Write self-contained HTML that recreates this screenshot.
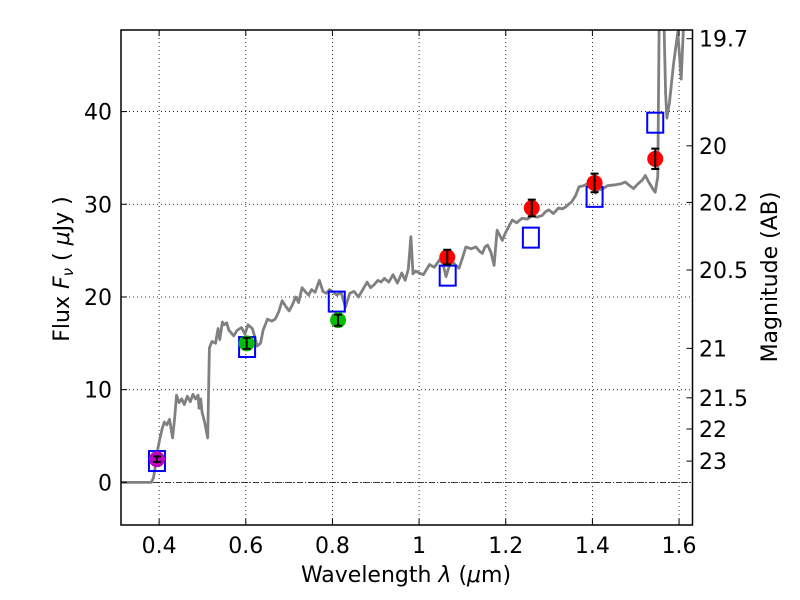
<!DOCTYPE html>
<html><head><meta charset="utf-8"><style>
html,body{margin:0;padding:0;background:#fff;width:800px;height:600px;overflow:hidden;position:relative}
svg{display:block;font-family:"DejaVu Sans","Liberation Sans",sans-serif}
</style></head><body>
<svg id="chart" width="800" height="600">
<g id="grid"></g>
<g id="plot" clip-path="url(#clip)"></g>
<g id="axes"></g>
<defs><clipPath id="clip"><rect x="121" y="30" width="571.5" height="495"/></clipPath></defs>
</svg>
<script>
const xTicks=[0.4,0.6,0.8,1.0,1.2,1.4,1.6];
const xTickLabels=["0.4","0.6","0.8","1","1.2","1.4","1.6"];
const yTicks=[0,10,20,30,40];
const magTicks=[19.7,20,20.2,20.5,21,21.5,22,23];
const specWave=[0.31,0.382,0.387,0.392,0.397,0.402,0.407,0.412,0.418,0.424,0.431,0.436,0.440,0.446,0.452,0.458,0.465,0.472,0.478,0.484,0.490,0.492,0.496,0.499,0.505,0.512,0.516,0.522,0.530,0.536,0.540,0.546,0.550,0.556,0.561,0.565,0.572,0.580,0.590,0.598,0.605,0.615,0.620,0.626,0.634,0.640,0.650,0.660,0.668,0.676,0.684,0.692,0.700,0.708,0.715,0.722,0.730,0.737,0.745,0.752,0.760,0.770,0.778,0.786,0.793,0.800,0.810,0.820,0.830,0.840,0.850,0.860,0.870,0.880,0.888,0.896,0.905,0.912,0.920,0.930,0.940,0.950,0.960,0.968,0.975,0.981,0.986,0.992,1.000,1.010,1.024,1.035,1.047,1.055,1.062,1.070,1.077,1.085,1.092,1.100,1.108,1.120,1.131,1.140,1.146,1.152,1.158,1.166,1.173,1.180,1.192,1.200,1.215,1.225,1.238,1.250,1.261,1.272,1.284,1.292,1.299,1.310,1.322,1.330,1.338,1.345,1.353,1.362,1.369,1.380,1.392,1.400,1.407,1.415,1.422,1.435,1.453,1.465,1.476,1.486,1.495,1.505,1.515,1.522,1.530,1.540,1.545,1.551,1.555,1.559,1.565,1.569,1.572,1.578,1.587,1.597,1.605,1.610,1.614,1.620,1.631];
const specFlux=[0,0,0.5,2.0,3.6,4.8,5.8,6.5,6.2,6.8,4.8,7.0,9.4,8.6,9.0,8.4,9.3,8.7,9.5,9.0,9.4,8.0,9.0,7.6,6.5,4.8,14.5,15.2,15.0,16.6,15.4,17.3,17.0,17.2,16.4,16.2,15.8,16.4,16.7,16.0,17.0,16.6,15.8,14.7,15.0,16.4,17.6,17.4,17.6,18.4,19.6,19.0,18.5,19.2,20.0,19.4,21.0,20.6,20.2,20.8,20.5,21.8,20.6,20.4,20.8,20.6,20.2,20.5,18.9,20.4,20.6,20.0,20.8,21.6,21.0,21.3,21.8,21.6,22.0,21.6,22.4,21.5,22.6,21.8,23.0,26.5,22.5,22.8,22.6,22.4,23.5,23.2,24.0,23.6,22.2,23.4,23.8,23.4,23.1,24.2,25.4,25.2,25.4,24.9,24.7,25.4,25.6,24.8,23.4,27.2,26.1,27.0,28.3,28.0,28.5,28.4,28.8,28.6,28.8,29.2,29.4,29.0,29.6,29.5,29.7,30.0,30.3,31.0,31.9,32.0,32.3,31.8,31.2,31.6,31.6,32.0,32.1,32.2,32.4,32.0,31.7,32.2,32.6,33.1,32.4,31.6,31.3,33.0,55,58,50,42,39.3,41,45,48.6,43.5,49,55,58,60];
const magWave=[0.395];
const magFlux=[2.5];
const magErr=[0.3];
const greenWave=[0.602,0.813];
const greenFlux=[15.0,17.5];
const greenErr=[0.6,0.6];
const redWave=[1.065,1.26,1.405,1.545];
const redFlux=[24.3,29.6,32.3,34.9];
const redErr=[0.8,0.9,1.0,1.1];
const modelWave=[0.395,0.603,0.81,1.066,1.258,1.405,1.545];
const modelFlux=[2.3,14.6,19.5,22.3,26.4,30.8,38.8];

const L=121,R=692.5,T=30,B=525,xmin=0.312,xmax=1.631,ymin=-4.6,ymax=48.8;
const X=v=>L+(v-xmin)/(xmax-xmin)*(R-L);
const Y=v=>B-(v-ymin)/(ymax-ymin)*(B-T);
const NS="http://www.w3.org/2000/svg";
function mk(tag,attrs,parent,text){const e=document.createElementNS(NS,tag);for(const k in attrs)e.setAttribute(k,attrs[k]);if(text!==undefined)e.textContent=text;parent.appendChild(e);return e;}
const grid=document.getElementById('grid'),plot=document.getElementById('plot'),axes=document.getElementById('axes');
xTicks.forEach(v=>{const l=mk('line',{x1:X(v),x2:X(v),y1:T,y2:B,stroke:'#000','stroke-width':0.8,'stroke-dasharray':'1,3'},grid);

});
yTicks.forEach(v=>{const l=mk('line',{x1:L,x2:R,y1:Y(v),y2:Y(v),stroke:'#000','stroke-width':0.8,'stroke-dasharray':'1,3'},grid);

});
const zl=mk('line',{x1:L,x2:R,y1:Y(0),y2:Y(0),stroke:'#000','stroke-width':0.8,'stroke-dasharray':'6,2,1,2'},grid);


let d='';specWave.forEach((w,i)=>{d+=(i?'L':'M')+X(w).toFixed(1)+','+Y(specFlux[i]).toFixed(1);});
const sp=mk('path',{d:d,fill:'none',stroke:'#808080','stroke-width':2.8,'stroke-linejoin':'round'},plot);


modelWave.forEach((w,i)=>{const r=mk('rect',{x:X(w)-8,y:Y(modelFlux[i])-10,width:16,height:20,fill:'none',stroke:'#0000ff','stroke-width':2},plot);

});
function pts(ws,fs,es,col,name){ws.forEach((w,i)=>{const c=mk('circle',{cx:X(w),cy:Y(fs[i]),r:8,fill:col},plot);


const y1=Y(fs[i]-es[i]),y2=Y(fs[i]+es[i]),x=X(w);
const eb=mk('path',{d:`M${x},${y1}L${x},${y2}M${x-4},${y1}L${x+4},${y1}M${x-4},${y2}L${x+4},${y2}`,stroke:'#000','stroke-width':2,fill:'none'},plot);

});}
pts(magWave,magFlux,magErr,'#bf00bf','uv-point');
pts(greenWave,greenFlux,greenErr,'#00c000','optical-point');
pts(redWave,redFlux,redErr,'#ff0000','nir-point');
const fr=mk('rect',{x:L,y:T,width:R-L,height:B-T,fill:'none',stroke:'#000','stroke-width':1.5},axes);


xTicks.forEach((v,i)=>{mk('line',{x1:X(v),x2:X(v),y1:B,y2:B-6,stroke:'#000'},axes);mk('line',{x1:X(v),x2:X(v),y1:T,y2:T+6,stroke:'#000'},axes);
const t=mk('text',{x:X(v),y:553,'text-anchor':'middle','font-size':22},axes,xTickLabels[i]);

});
yTicks.forEach(v=>{mk('line',{x1:L,x2:L+6,y1:Y(v),y2:Y(v),stroke:'#000'},axes);
const t=mk('text',{x:112,y:Y(v)+8,'text-anchor':'end','font-size':22},axes,String(v));

});
magTicks.forEach(m=>{const f=Math.pow(10,(23.9-m)/2.5);const y=Y(f);mk('line',{x1:R,x2:R-6,y1:y,y2:y,stroke:'#000'},axes);
const t=mk('text',{x:699,y:y+8,'font-size':22},axes,String(m));

});
</script>
<svg style="position:absolute;left:0;top:0" width="800" height="600">
<text x="406" y="582" text-anchor="middle" font-size="22" font-family="DejaVu Sans,sans-serif">Wavelength  <tspan font-style="italic">λ</tspan> (<tspan font-style="italic">μ</tspan>m)</text>
<text transform="translate(69,269) rotate(-90)" text-anchor="middle" font-size="22" font-family="DejaVu Sans,sans-serif">Flux  <tspan font-style="italic">F</tspan><tspan font-style="italic" font-size="15" dy="4">ν</tspan><tspan dy="-4">  ( </tspan><tspan font-style="italic">μ</tspan>Jy )</text>
<text transform="translate(777,277) rotate(-90)" text-anchor="middle" font-size="22" font-family="DejaVu Sans,sans-serif">Magnitude (AB)</text>
</svg>
</body></html>
